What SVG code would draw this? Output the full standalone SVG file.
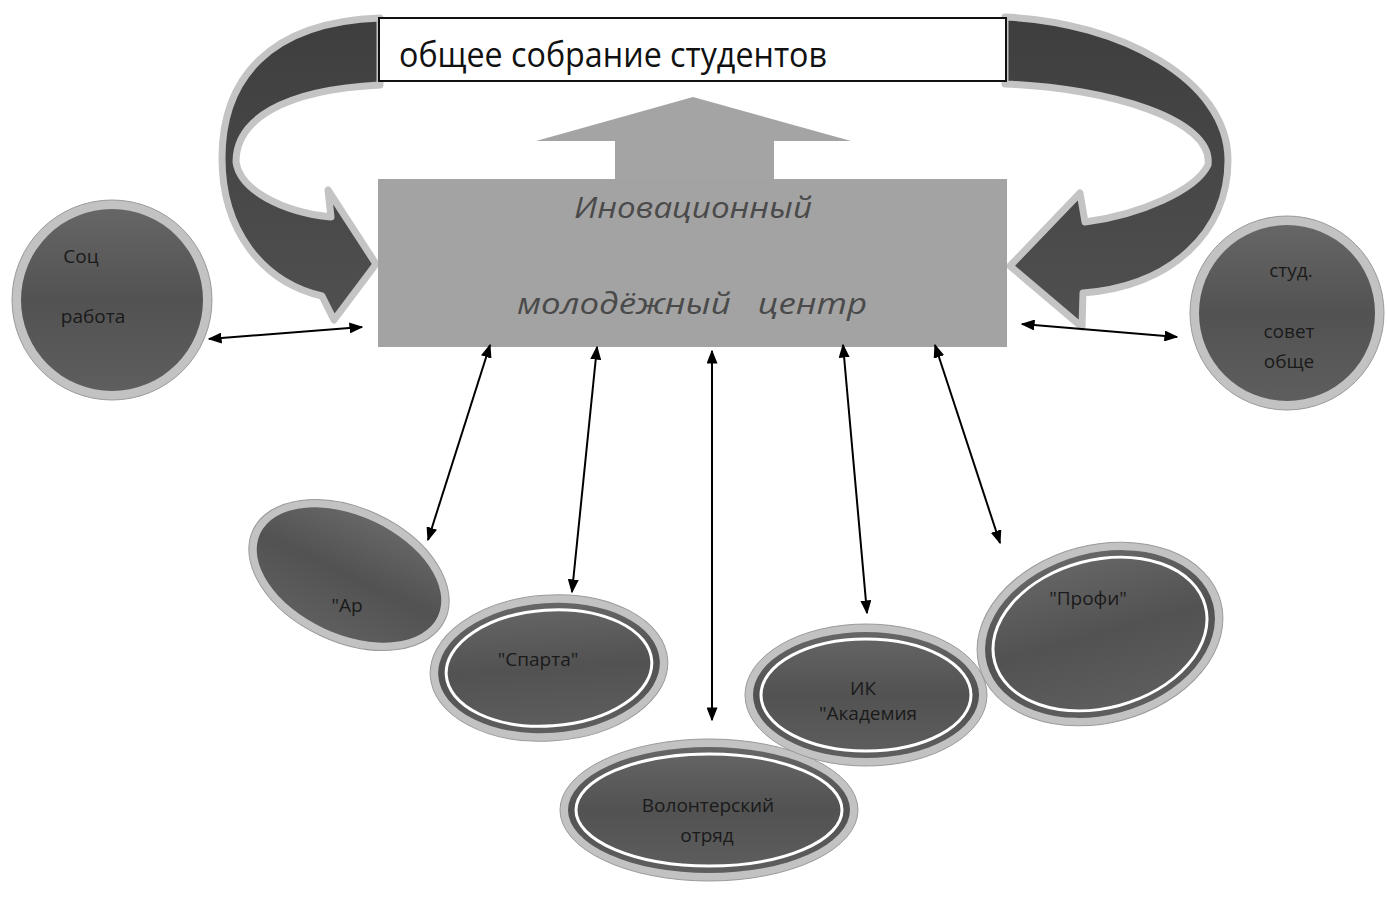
<svg xmlns="http://www.w3.org/2000/svg" width="1387" height="897" viewBox="0 0 1387 897">
<style>
.lbl{font-family:"Open Sans","Liberation Sans",sans-serif;font-size:19px;fill:#1a1a1a;text-anchor:middle}
.ttl{font-family:"Open Sans","Noto Sans","Liberation Sans",sans-serif;font-size:34px;fill:#111}
.ctr{font-family:"Open Sans","Noto Sans","Liberation Sans",sans-serif;font-style:italic;font-size:29px;fill:#4a4a4a;text-anchor:middle}
.rim{fill:#c2c2c2;stroke:#9a9a9a;stroke-width:1}
.body{fill:url(#dark)}
.ring{fill:none;stroke:#fff;stroke-width:3}
.ribbon{fill:url(#rib);stroke:#c4c4c4;stroke-width:7;stroke-linejoin:round}
.con{stroke:#000;stroke-width:2;fill:none;marker-start:url(#ah);marker-end:url(#ah)}
</style>
<defs>
<linearGradient id="dark" x1="0" y1="0" x2="0" y2="1">
<stop offset="0" stop-color="#666"/><stop offset="0.5" stop-color="#525252"/><stop offset="1" stop-color="#5e5e5e"/>
</linearGradient>
<linearGradient id="rib" x1="0" y1="0" x2="0" y2="1">
<stop offset="0" stop-color="#3e3e3e"/><stop offset="1" stop-color="#505050"/>
</linearGradient>
<marker id="ah" viewBox="0 0 10 10" refX="9" refY="5" markerWidth="14" markerHeight="11" markerUnits="userSpaceOnUse" orient="auto-start-reverse" preserveAspectRatio="none">
<path d="M0,0 L10,5 L0,10 z" fill="#000"/>
</marker>
</defs>
<rect width="1387" height="897" fill="#fff"/>

<g id="loop-left">
<path class="ribbon" d="M380,18 C268,22 222,80 222,158 C222,230 262,282 322,296 L334,320 L376,264 L328,190 L331,217 C282,212 240,190 236,162 C236,120 282,90 380,85 Z"/>
</g>
<g id="loop-right">
<path class="ribbon" d="M1005,17 C1120,22 1228,80 1228,160 C1228,232 1172,286 1083,293 L1082,327 L1010,266 L1080,193 L1085,222 C1140,215 1196,190 1208,165 C1214,120 1110,88 1005,84 Z"/>
</g>

<g id="title">
<rect x="379" y="18" width="627" height="63" fill="#fff" stroke="#111" stroke-width="2"/>
<text class="ttl" x="399" y="67" textLength="428" lengthAdjust="spacingAndGlyphs">общее собрание студентов</text>
</g>

<g id="up-arrow">
<path d="M615,180 L615,141 L536,141 L693,97 L851,141 L774,141 L774,180 Z" fill="#a4a4a4"/>
</g>

<g id="center">
<rect x="378" y="179" width="629" height="168" fill="#a3a3a3"/>
<text class="ctr" x="693" y="218" textLength="238" lengthAdjust="spacingAndGlyphs">Иновационный</text>
<text class="ctr" x="692" y="314" textLength="350" lengthAdjust="spacingAndGlyphs" xml:space="preserve">молодёжный   центр</text>
</g>

<g id="soc">
<circle class="rim" cx="112" cy="300" r="100"/>
<circle class="body" cx="112" cy="300" r="91"/>
<text class="lbl" x="81" y="263">Соц</text>
<text class="lbl" x="93" y="323">работа</text>
</g>

<g id="studsovet">
<circle class="rim" cx="1287" cy="313" r="97"/>
<circle class="body" cx="1287" cy="313" r="88"/>
<text class="lbl" x="1291" y="277">студ.</text>
<text class="lbl" x="1289" y="338">совет</text>
<text class="lbl" x="1289" y="368">обще</text>
</g>

<g id="art">
<ellipse class="rim" cx="349" cy="575" rx="106" ry="67" transform="rotate(25 349 575)"/>
<ellipse class="body" cx="349" cy="575" rx="98" ry="59" transform="rotate(25 349 575)"/>
<text class="lbl" x="347" y="612">"Ар</text>
</g>

<g id="sparta">
<ellipse class="rim" cx="549" cy="668" rx="119" ry="73" transform="rotate(-4 549 668)"/>
<ellipse class="body" cx="549" cy="668" rx="111" ry="65" transform="rotate(-4 549 668)"/>
<ellipse class="ring" cx="549" cy="668" rx="103" ry="58" transform="rotate(-4 549 668)"/>
<text class="lbl" x="538" y="666">"Спарта"</text>
</g>

<g id="volunteer">
<ellipse class="rim" cx="709" cy="810" rx="149" ry="71"/>
<ellipse class="body" cx="709" cy="810" rx="141" ry="63"/>
<ellipse class="ring" cx="709" cy="810" rx="133" ry="56"/>
<text class="lbl" x="708" y="812">Волонтерский</text>
<text class="lbl" x="707" y="842">отряд</text>
</g>

<g id="ik">
<ellipse class="rim" cx="866" cy="695" rx="121" ry="71"/>
<ellipse class="body" cx="866" cy="695" rx="113" ry="63"/>
<ellipse class="ring" cx="866" cy="695" rx="105" ry="56"/>
<text class="lbl" x="863" y="695">ИК</text>
<text class="lbl" x="868" y="720">"Академия</text>
</g>

<g id="profi">
<ellipse class="rim" cx="1100" cy="634" rx="125" ry="89" transform="rotate(-15 1100 634)"/>
<ellipse class="body" cx="1100" cy="634" rx="117" ry="81" transform="rotate(-15 1100 634)"/>
<ellipse class="ring" cx="1100" cy="634" rx="109" ry="74" transform="rotate(-15 1100 634)"/>
<text class="lbl" x="1088" y="605">"Профи"</text>
</g>

<g id="connectors">
<line class="con" x1="209" y1="339" x2="362" y2="327"/>
<line class="con" x1="1022" y1="324" x2="1177" y2="337"/>
<line class="con" x1="490" y1="345" x2="428" y2="540"/>
<line class="con" x1="597" y1="347" x2="572" y2="592"/>
<line class="con" x1="712" y1="351" x2="712" y2="720"/>
<line class="con" x1="843" y1="345" x2="867" y2="613"/>
<line class="con" x1="935" y1="345" x2="1000" y2="543"/>
</g>
</svg>
